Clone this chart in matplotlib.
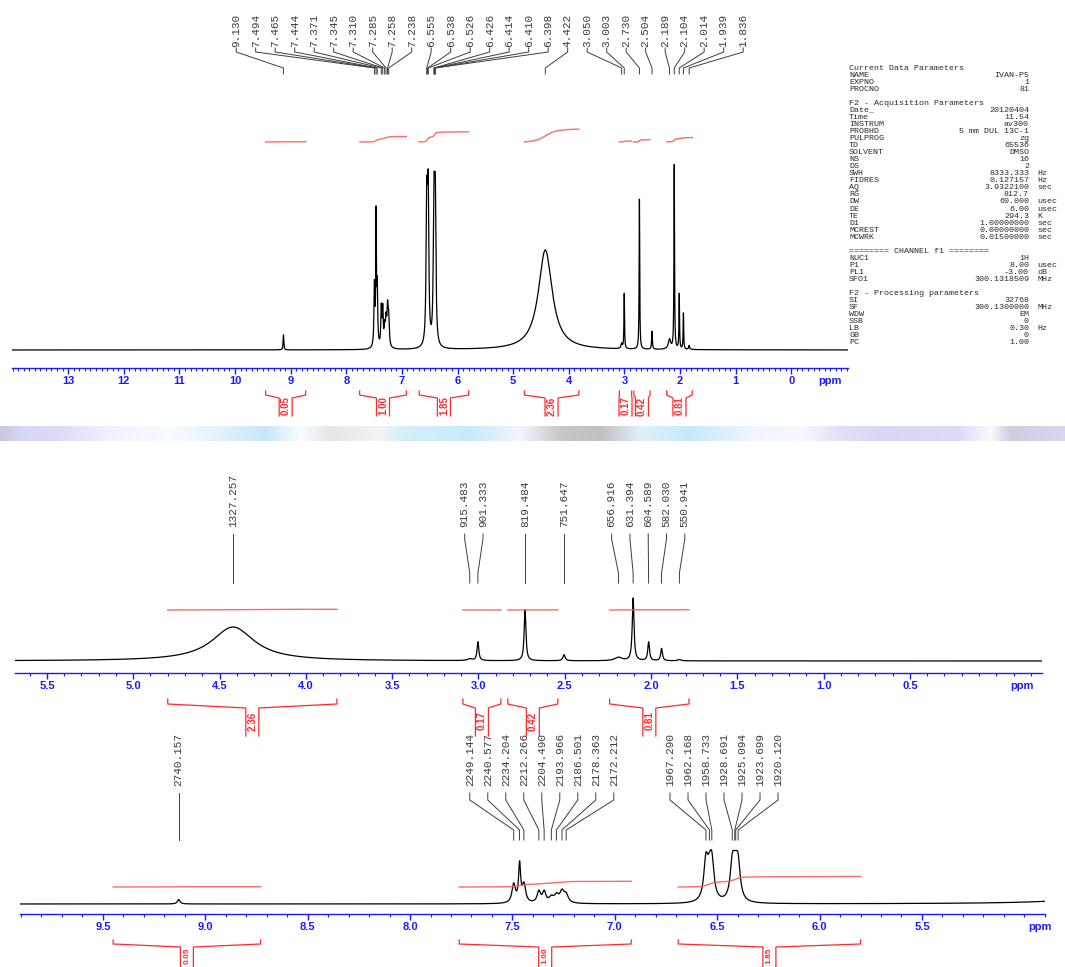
import numpy as np
import matplotlib
matplotlib.use("Agg")
import matplotlib.pyplot as plt
from matplotlib.ticker import MultipleLocator
from matplotlib.colors import to_rgb

W, H = 1065, 967
BLUE = "#1a1aff"
RED = "#ff2a2a"
GREY = "#3c3c3c"

# ---------------------------------------------------------------
# Peak list (ppm, height in top-panel px, FWHM in ppm)
# ---------------------------------------------------------------
SF = 300.13

peak_ppm = [9.130, 7.494, 7.465, 7.444, 7.371, 7.345, 7.310, 7.285, 7.258, 7.238,
            6.555, 6.538, 6.526, 6.426, 6.414, 6.410, 6.398, 4.422,
            3.050, 3.003, 2.730, 2.504, 2.189, 2.104, 2.014, 1.939, 1.836]
peak_amp = [15, 62, 125, 60, 38, 36, 18, 24, 36, 26,
            128, 64, 117, 114, 38, 38, 114, 100,
            5, 55, 150, 18, 10, 184, 55, 36, 4]
peak_fwhm = [0.015, 0.02, 0.012, 0.02, 0.02, 0.02, 0.025, 0.025, 0.025, 0.025,
             0.025, 0.025, 0.025, 0.025, 0.025, 0.025, 0.025, 0.30,
             0.03, 0.012, 0.012, 0.015, 0.05, 0.012, 0.012, 0.012, 0.02]

hz_mid = [1327.257, 915.483, 901.333, 819.484, 751.647,
          656.916, 631.394, 604.589, 582.030, 550.941]
hz_low = [2740.157, 2249.144, 2240.577, 2234.204, 2212.266, 2204.490, 2193.966,
          2186.501, 2178.363, 2172.212, 1967.290, 1962.168, 1958.733,
          1928.691, 1925.094, 1923.699, 1920.120]

# integral regions
int_from = [9.45, 7.76, 6.69, 4.80, 3.09, 2.83, 2.24]
int_to = [8.73, 6.92, 5.80, 3.82, 2.87, 2.54, 1.78]
int_value = [0.05, 1.00, 1.85, 2.36, 0.17, 0.42, 0.81]

top_ticks = [13, 12, 11, 10, 9, 8, 7, 6, 5, 4, 3, 2, 1, 0]
mid_ticks = [5.5, 5.0, 4.5, 4.0, 3.5, 3.0, 2.5, 2.0, 1.5, 1.0, 0.5]
low_ticks = [9.5, 9.0, 8.5, 8.0, 7.5, 7.0, 6.5, 6.0, 5.5]

# acquisition parameter block
head_current = "Current Data Parameters"
par_current = [("NAME", "IVAN-P5", ""), ("EXPNO", "1", ""), ("PROCNO", "81", "")]
head_acq = "F2 - Acquisition Parameters"
par_acq = [("Date_", "20120404", ""), ("Time", "11.54", ""), ("INSTRUM", "av300", ""),
           ("PROBHD", "5 mm DUL 13C-1", ""), ("PULPROG", "zg", ""), ("TD", "65536", ""),
           ("SOLVENT", "DMSO", ""), ("NS", "16", ""), ("DS", "2", ""),
           ("SWH", "8333.333", "Hz"), ("FIDRES", "0.127157", "Hz"),
           ("AQ", "3.9322100", "sec"), ("RG", "812.7", ""), ("DW", "60.000", "usec"),
           ("DE", "6.00", "usec"), ("TE", "294.3", "K"), ("D1", "1.00000000", "sec"),
           ("MCREST", "0.00000000", "sec"), ("MCWRK", "0.01500000", "sec")]
head_chan = "======== CHANNEL f1 ========"
par_chan = [("NUC1", "1H", ""), ("P1", "8.00", "usec"), ("PL1", "-3.00", "dB"),
            ("SFO1", "300.1318509", "MHz")]
head_proc = "F2 - Processing parameters"
par_proc = [("SI", "32768", ""), ("SF", "300.1300000", "MHz"), ("WDW", "EM", ""),
            ("SSB", "0", ""), ("LB", "0.30", "Hz"), ("GB", "0", ""), ("PC", "1.00", "")]

# colour stops of the faded banner strip between the panels
band_x = [0, 20, 60, 110, 170, 215, 265, 300, 330, 380, 400, 470, 520, 560,
          600, 640, 690, 750, 800, 840, 880, 960, 990, 1010, 1065]
band_c = ["#c8c8e0", "#d6d6f6", "#dcdcf8", "#f2f2ff", "#f8fbff", "#e6f2fb", "#c8e6f8",
          "#f8fcff", "#e6e6e6", "#f4f4f4", "#d4f0f8", "#c8eaf8", "#f4f4ff", "#c8c8c8",
          "#c0c0c0", "#e0f0fa", "#c8e8fa", "#f0f4fc", "#f8f8ff", "#e0e0f8", "#d8d8f6",
          "#dcdcf8", "#fafafa", "#d0cce0", "#d8d8ec"]


def spectrum(x):
    y = np.zeros_like(x)
    for p, a, w in zip(peak_ppm, peak_amp, peak_fwhm):
        y += a / (1 + ((x - p) / (w / 2)) ** 2)
    return y


def spread(desired, gap):
    # push peak labels apart: clusters centred on their peaks
    groups = [[d] for d in desired]
    while True:
        pos = []
        for g in groups:
            c = np.mean(g)
            pos.append([c + (k - (len(g) - 1) / 2) * gap for k in range(len(g))])
        for i in range(len(groups) - 1):
            if pos[i + 1][0] - pos[i][-1] < gap:
                groups[i] = groups[i] + groups.pop(i + 1)
                break
        else:
            return [q for p in pos for q in p]


fig = plt.figure(figsize=(W / 100, H / 100), dpi=100)


def draw_panel(p):
    left, right, top, axis = p["left"], p["right"], p["top"], p["axis"]
    pl, pr = p["ppm"]
    ax = fig.add_axes([left / W, 1 - axis / H, (right - left) / W, (axis - top) / H])
    ax.set_xlim(pl, pr)
    ax.set_ylim(0, axis - top)
    ax.patch.set_alpha(0)

    def X(px):
        return pl + (px - left) * (pr - pl) / (right - left)

    def PX(ppm):
        return left + (ppm - pl) * (right - left) / (pr - pl)

    def Y(py):
        return axis - py

    # spectrum
    x = np.linspace(pl, pr, 40000)
    ax.plot(x, Y(p["base"]) + p["scale"] * spectrum(x), color="black", lw=0.9)

    # ppm axis
    for s in ["top", "left", "right"]:
        ax.spines[s].set_visible(False)
    ax.spines["bottom"].set_color(BLUE)
    ax.spines["bottom"].set_linewidth(1.0)
    ax.yaxis.set_visible(False)
    ax.set_xticks(p["ticks"], labels=[p["fmt"].format(t) for t in p["ticks"]],
                  fontsize=8, fontweight="bold", color=BLUE, family="Liberation Sans")
    ax.xaxis.set_minor_locator(MultipleLocator(0.1))
    ax.tick_params(axis="x", which="major", direction="out", length=4, width=1,
                   color=BLUE, pad=2)
    ax.tick_params(axis="x", which="minor", direction="out", length=2, width=0.8,
                   color=BLUE)
    ax.text(X(p["ppm_x"]), Y(p["axis"] + 13), "ppm", ha="center", va="center",
            fontsize=8, fontweight="bold", color=BLUE, family="Liberation Sans",
            clip_on=False)

    # peak labels with leader lines
    want = [PX(v) for v in p["peaks"]]
    lab_px = spread(want, p["gap"])
    ys = p["lead"]
    for s, pk, lx in zip(p["labels"], want, lab_px):
        ax.text(X(lx), Y(ys[0]), s, rotation=90, ha="center", va="bottom",
                fontsize=p["lfs"], family="Liberation Mono", color=GREY)
        ax.plot([X(lx), X(lx), X(pk), X(pk)], [Y(ys[1]), Y(ys[2]), Y(ys[3]), Y(ys[4])],
                color=GREY, lw=0.7)

    # integrals and brackets
    ib, irise = p["int"]
    ya, yb, yc, yd, yt, fs = p["brk"]
    for a, b, v in zip(int_from, int_to, int_value):
        if a > pl or b < pr:
            continue
        xs = np.linspace(a, b, 400)
        cum = np.cumsum(spectrum(xs))
        ax.plot(xs, Y(ib) + cum / cum[-1] * v * irise, color="#ff5a5a", lw=1.0, alpha=0.9)
        x1, x2 = PX(a), PX(b)
        xc = (x1 + x2) / 2
        bw = 6.5
        for xe, xb in [(x1, xc - bw), (x2, xc + bw)]:
            ax.plot([X(xe), X(xe), X(xb), X(xb)], [Y(ya), Y(yb), Y(yc), Y(yd)],
                    color=RED, lw=0.9, clip_on=False)
        ax.text(X(xc), Y(yt), f"{v:.2f}", rotation=90, ha="center", va="center",
                fontsize=fs, fontweight="bold", color=RED, family="Liberation Sans",
                clip_on=False)
    return ax


panels = [
    dict(left=12, right=848, top=0, axis=368, ppm=(14.01, -1.02), base=350, scale=1.0,
         ticks=top_ticks, fmt="{:d}", ppm_x=830, peaks=peak_ppm,
         labels=[f"{v:.3f}" for v in peak_ppm], gap=19.5, lfs=8,
         lead=(47, 48, 52, 68, 74), int=(142, 5.5),
         brk=(391, 395, 398, 416, 406, 7)),
    dict(left=15, right=1042, top=445, axis=673, ppm=(5.685, -0.265), base=661, scale=0.34,
         ticks=mid_ticks, fmt="{:.1f}", ppm_x=1022, peaks=[h / SF for h in hz_mid],
         labels=[f"{h:.3f}" for h in hz_mid], gap=18.3, lfs=8,
         lead=(527, 534, 539, 573, 583), int=(610, 0.3),
         brk=(699, 704, 708, 736, 721, 7)),
    dict(left=20, right=1045, top=725, axis=914, ppm=(9.905, 4.899), base=904, scale=0.30,
         ticks=low_ticks, fmt="{:.1f}", ppm_x=1040, peaks=[h / SF for h in hz_low],
         labels=[f"{h:.3f}" for h in hz_low], gap=18, lfs=8,
         lead=(786, 793, 800, 830, 840), int=(887, 5.7),
         brk=(940, 944, 947, 990, 955.5, 6)),
]

for p in panels:
    draw_panel(p)

# faded banner strip between the two screenshots
band = fig.add_axes([0, 1 - 441 / H, 1, 15 / H])
xx = np.arange(W)
rgb = np.array([to_rgb(c) for c in band_c])
strip = np.stack([np.interp(xx, band_x, rgb[:, k]) for k in range(3)], axis=-1)
band.imshow(strip[None, :, :], aspect="auto", extent=(0, W, 0, 1))
band.axis("off")

# parameter block on the right
y = 68
step = 7.05
sections = [(head_current, par_current), (head_acq, par_acq),
            (head_chan, par_chan), (head_proc, par_proc)]
kw = dict(fontsize=6, family="Liberation Mono", color="#2a2a2a", va="center")
for head, rows in sections:
    fig.text(849 / W, 1 - y / H, head, ha="left", **kw)
    y += step
    for name, val, unit in rows:
        fig.text(849 / W, 1 - y / H, name, ha="left", **kw)
        fig.text(1029 / W, 1 - y / H, val, ha="right", **kw)
        if unit:
            fig.text(1037 / W, 1 - y / H, unit, ha="left", **kw)
        y += step
    y += step

fig.savefig("out.png", dpi=100)
